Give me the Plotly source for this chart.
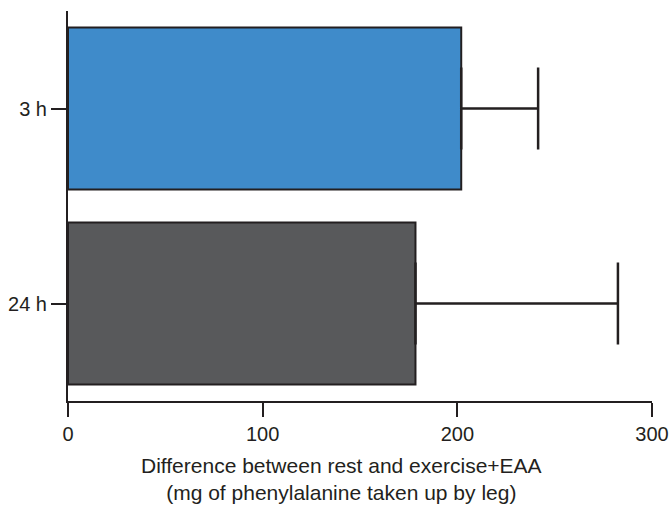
import plotly.graph_objects as go

categories = ["3 h", "24 h"]
values = [202, 178.5]
errors = [39.5, 104]
bar_colors = ["#3F8BCA", "#58595B"]
x_ticks = [0, 100, 200, 300]
x_title_lines = ["Difference between rest and exercise+EAA",
                 "(mg of phenylalanine taken up by leg)"]

ink = "#231F20"
font = dict(family="Liberation Sans, Arial, sans-serif", size=20, color=ink)
title_font = dict(family="Liberation Sans, Arial, sans-serif", size=21, color=ink)

fig = go.Figure()
fig.add_trace(go.Bar(
    y=categories, x=values, orientation="h",
    marker=dict(color=bar_colors, line=dict(color=ink, width=2)),
    width=0.83,
    error_x=dict(type="data", array=errors, arrayminus=[0, 0], symmetric=False,
                 color=ink, thickness=2.5, width=41),
    showlegend=False,
))

fig.update_layout(
    width=670, height=506,
    margin=dict(l=68, r=18, t=11, b=105, autoexpand=False),
    plot_bgcolor="white", paper_bgcolor="white",
    font=font,
    xaxis=dict(range=[0, 300], tickvals=x_ticks, ticks="outside", ticklen=14,
               tickwidth=2, tickcolor=ink, showline=True, linewidth=2, linecolor=ink,
               showgrid=False, zeroline=False, tickfont=font, automargin=False),
    yaxis=dict(categoryorder="array", categoryarray=["24 h", "3 h"], range=[-0.5, 1.5],
               ticks="outside", ticklen=15, tickwidth=2, tickcolor=ink,
               showline=True, linewidth=2, linecolor=ink, showgrid=False,
               zeroline=False, tickfont=font, automargin=False),
    annotations=[dict(text="<br>".join(x_title_lines), xref="paper", yref="paper",
                      x=0.4675, y=-0.2005, xanchor="center", yanchor="middle",
                      showarrow=False, font=title_font, align="center")],
)

fig.write_html(
    "out.html",
    config={"displayModeBar": False},
    post_script="document.body.style.margin='0';"
                "document.documentElement.style.overflow='hidden';",
)
